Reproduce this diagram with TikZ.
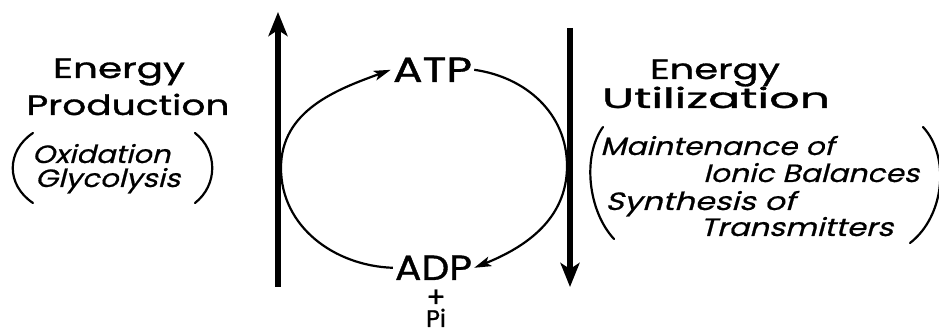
\documentclass[tikz,border=0pt]{standalone}
\usepackage{fontspec}
\usepackage{graphicx}
\setmainfont{Poppins}[FakeBold=1.0]
\newfontfamily\slfont{Poppins}[FakeSlant=0.22, FakeBold=0.6]
\usetikzlibrary{arrows.meta}
% set a text to a given width, keeping its natural height
\newcommand\stretchto[2]{\resizebox{#1}{\height}{#2}}
\begin{document}
\begin{tikzpicture}[x=1pt,y=1pt,
  bigtxt/.style={font=\fontsize{28}{30}\selectfont, inner sep=0pt, anchor=base},
  notetxt/.style={font=\slfont\fontsize{25}{27}\selectfont, inner sep=0pt, anchor=base west},
  chem/.style={font=\fontsize{35}{37}\selectfont, inner sep=2pt, anchor=base},
  small/.style={inner sep=0pt, anchor=base, text depth=0pt},
  bar/.style={line width=6pt, -{Stealth[length=24pt,width=19pt,inset=6pt]}},
  cycle/.style={line width=2.2pt, -{Stealth[length=17pt,width=10pt,inset=4pt]}},
  paren/.style={line width=2.2pt, line cap=round}]
\useasboundingbox (0,0) rectangle (939,336);

% left side: production
\node[bigtxt] (enL) at (119,258) {\stretchto{132pt}{Energy}};
\node[bigtxt] (prod) at (128,221) {\stretchto{203pt}{Production}};
\node[notetxt] (oxi) at (32,173) {\stretchto{138pt}{Oxidation}};
\node[notetxt] (gly) at (35,149) {\stretchto{145pt}{Glycolysis}};
\draw[paren] (33,203) .. controls (6,185) and (6,151) .. (33,133);
\draw[paren] (195,203) .. controls (218,185) and (218,151) .. (195,133);

% right side: utilization
\node[bigtxt] (enR) at (715,257) {\stretchto{130pt}{Energy}};
\node[bigtxt] (util) at (716,228) {\stretchto{228pt}{Utilization}};
\node[notetxt] (mai) at (600,181) {\stretchto{234pt}{Maintenance of}};
\node[notetxt] (ion) at (703,154) {\stretchto{216pt}{Ionic Balances}};
\node[notetxt] (syn) at (605,126) {\stretchto{190pt}{Synthesis of}};
\node[notetxt] (tra) at (700,100) {\stretchto{193pt}{Transmitters}};
\draw[paren] (603,209) .. controls (582,180) and (588,125) .. (614,97);
\draw[paren] (923,209) .. controls (950,180) and (945,120) .. (910,93);

% nucleotides
\node[chem] (atp) at (432.5,254) {\stretchto{79pt}{ATP}};
\node[chem] (adp) at (433.5,56) {\stretchto{77pt}{ADP}};
\node[small, font=\fontsize{28}{30}\selectfont, text height=17pt] (plus) at (436,29) {+};
\node[small, font=\fontsize{24}{26}\selectfont, text height=17pt] (pi) at (436,9) {Pi};

% vertical energy arrows
\coordinate (lb) at (278,49);
\coordinate (lt) at (278,324);
\coordinate (rt) at (570,308);
\coordinate (rb) at (570,49);
\draw[bar] (lb) -- (lt);
\draw[bar] (rt) -- (rb);

% the ATP/ADP cycle
\coordinate (lm) at (281,168);
\coordinate (rm) at (567,170);
\draw[cycle] (adp.west) to[out=178,in=-90] (lm) to[out=90,in=200] (atp.west);
\draw[cycle] (atp.east) to[out=-8,in=90] (rm) to[out=-90,in=22] (adp.east);
\end{tikzpicture}
\end{document}
